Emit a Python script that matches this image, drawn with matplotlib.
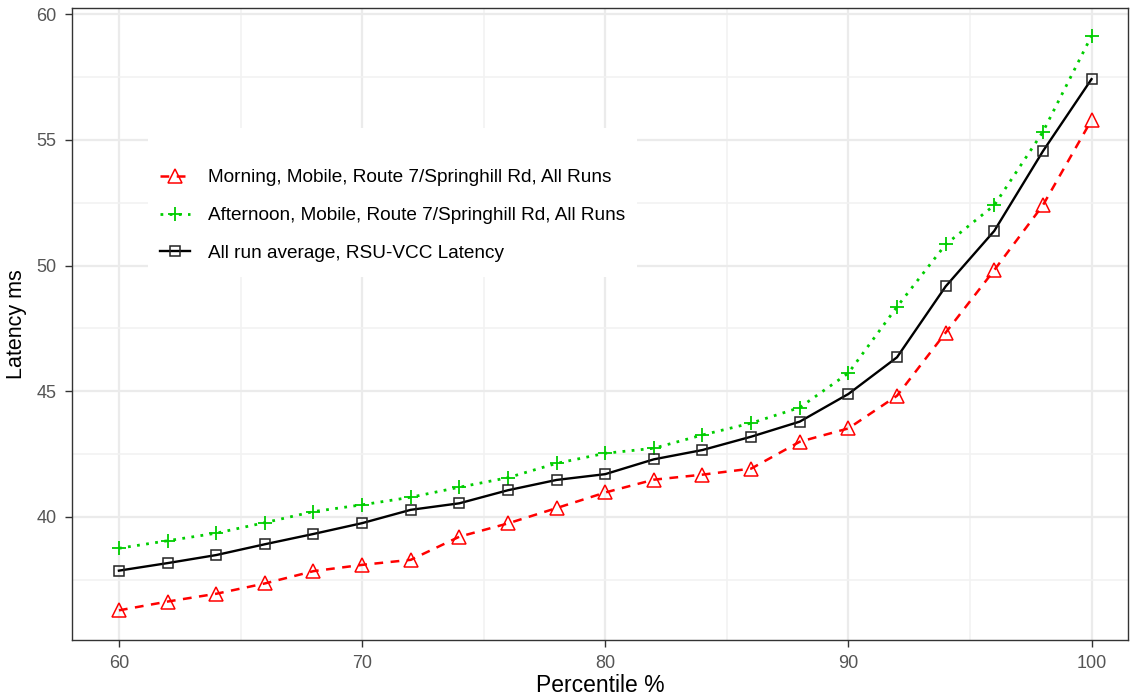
import matplotlib.pyplot as plt
from matplotlib.patches import Rectangle
from matplotlib.ticker import MultipleLocator

plt.rcParams['font.family'] = ['Liberation Sans', 'DejaVu Sans']

percentile = [60, 62, 64, 66, 68, 70, 72, 74, 76, 78, 80,
              82, 84, 86, 88, 90, 92, 94, 96, 98, 100]

morning = [36.28, 36.63, 36.94, 37.35, 37.84, 38.09, 38.29, 39.21, 39.74, 40.35, 40.97,
           41.48, 41.68, 41.92, 42.99, 43.52, 44.82, 47.33, 49.82, 52.40, 55.79]
afternoon = [38.75, 39.05, 39.35, 39.77, 40.21, 40.48, 40.78, 41.18, 41.56, 42.13, 42.53,
             42.73, 43.26, 43.73, 44.35, 45.72, 48.36, 50.84, 52.40, 55.32, 59.14]
average = [37.86, 38.16, 38.48, 38.91, 39.32, 39.75, 40.28, 40.54, 41.06, 41.47, 41.70,
           42.29, 42.66, 43.19, 43.79, 44.89, 46.35, 49.17, 51.38, 54.55, 57.42]

labels = ['Morning, Mobile, Route 7/Springhill Rd, All Runs',
          'Afternoon, Mobile, Route 7/Springhill Rd, All Runs',
          'All run average, RSU-VCC Latency']

W, H = 1130, 696
fig = plt.figure(figsize=(W / 100, H / 100), dpi=100)
ax = fig.add_axes([72 / W, 56 / H, 1056 / W, 632 / H])

# gridlines like ggplot theme_bw
ax.set_axisbelow(True)
ax.xaxis.set_major_locator(MultipleLocator(10))
ax.xaxis.set_minor_locator(MultipleLocator(5))
ax.yaxis.set_major_locator(MultipleLocator(5))
ax.yaxis.set_minor_locator(MultipleLocator(2.5))
ax.grid(which='major', color='#EBEBEB', linewidth=1.6)
ax.grid(which='minor', color='#F2F2F2', linewidth=1.2)

ax.plot(percentile, morning, color='#FF0000', linestyle=(0, (3.5, 3)), linewidth=1.8,
        marker='^', markersize=9.5, markerfacecolor='none', markeredgecolor='#FF0000',
        markeredgewidth=1.1, label=labels[0])
ax.plot(percentile, afternoon, color='#00CD00', linestyle=(0, (1, 2.3)), linewidth=2.0,
        marker='+', markersize=10, markeredgewidth=1.3, label=labels[1])
ax.plot(percentile, average, color='black', linestyle='-', linewidth=1.7,
        marker='s', markersize=7.5, markerfacecolor='none', markeredgecolor='#222222',
        markeredgewidth=1.1, label=labels[2])

ax.set_xlim(58.07, 101.5)
ax.set_ylim(35.1, 60.25)

for side in ['left', 'bottom', 'top', 'right']:
    ax.spines[side].set_color('#333333')
    ax.spines[side].set_linewidth(1.0)

ax.tick_params(which='major', length=5, width=1, color='#333333',
               labelcolor='#555555', labelsize=13, pad=6)
ax.tick_params(which='minor', length=0)

ax.set_xlabel('Percentile %', fontsize=16.5, color='black', labelpad=1)
ax.set_ylabel('Latency ms', fontsize=15.5, color='black', labelpad=7)

# white legend key area inside the panel
ax.add_patch(Rectangle((148 / W, 1 - 277 / H), 489 / W, 149 / H,
                       transform=fig.transFigure, facecolor='white',
                       edgecolor='none', zorder=1.5))

leg = ax.legend(loc='upper left', bbox_to_anchor=(160 / W, 1 - 169 / H),
                bbox_transform=fig.transFigure, frameon=False,
                fontsize=13.7, handlelength=1.6, handletextpad=0.9,
                labelspacing=1.08, borderpad=0, borderaxespad=0)
leg.set_zorder(3)

fig.savefig('out.png', dpi=100)
